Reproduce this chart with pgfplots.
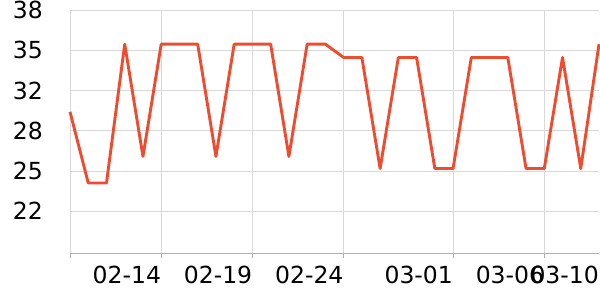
\documentclass[border=0pt]{standalone}
\usepackage{fontspec}
\setmainfont{DejaVu Sans}
\usepackage{pgfplots}
\pgfplotsset{compat=1.18}
\definecolor{lineRed}{RGB}{238,76,48}
\begin{document}
\begin{tikzpicture}
\begin{axis}[
  scale only axis,
  width=529pt, height=243pt,
  xmin=0, xmax=29,
  ymin=18.2, ymax=38.333,
  axis x line*=bottom, axis y line*=left,
  x axis line style={draw=black!30,-,line width=0.8pt},
  y axis line style={draw=black!15,-,line width=0.8pt},
  xtick={0,5,10,15,21,26},
  xticklabels={,02-14,02-19,02-24,03-01,03-06},
  extra x ticks={29},
  extra x tick labels={03-10},
  extra x tick style={x tick style={draw=none}, grid=none},
  ytick={21.667,25,28.333,31.667,35,38.333},
  yticklabels={22,25,28,32,35,38},
  xmajorgrids, ymajorgrids,
  major grid style={draw=black!15, line width=0.8pt},
  tick align=outside,
  x tick style={draw=black!30, line width=0.8pt},
  xtick pos=bottom,
  major tick length=5pt,
  y tick style={draw=none},
  xticklabel style={anchor=north east, inner sep=0pt, yshift=-8pt, font=\fontsize{23.5}{25}\selectfont},
  yticklabel style={anchor=east, inner sep=0pt, xshift=-22pt, font=\fontsize{23.5}{25}\selectfont},
  clip=false,
]
\coordinate (ll) at (rel axis cs:0,0);
\coordinate (ur) at (rel axis cs:1,1);
\addplot[lineRed, line width=2.9pt, line join=round, mark=none] coordinates {
(0,29.9) (1,24.0) (2,24.0) (3,35.5) (4,26.2) (5,35.5) (6,35.5) (7,35.5)
(8,26.2) (9,35.5) (10,35.5) (11,35.5) (12,26.2) (13,35.5) (14,35.5)
(15,34.4) (16,34.4) (17,25.2) (18,34.4) (19,34.4) (20,25.2) (21,25.2)
(22,34.4) (23,34.4) (24,34.4) (25,25.2) (26,25.2) (27,34.4) (28,25.2) (29,35.5)
};
\end{axis}
\pgfresetboundingbox
\path[use as bounding box] ([shift={(-70pt,-47pt)}]ll) rectangle ([shift={(1pt,10pt)}]ur);
\end{tikzpicture}
\end{document}
